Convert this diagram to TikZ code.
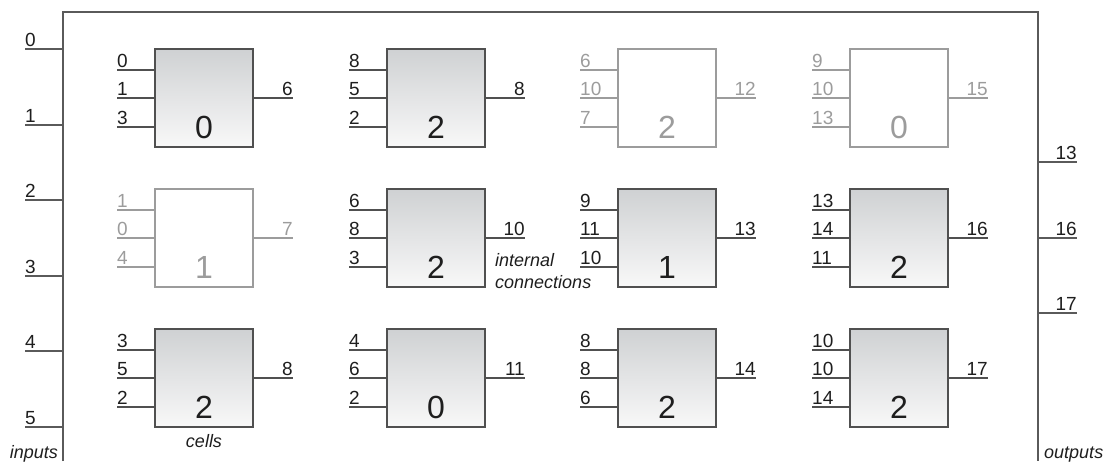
\documentclass[tikz,border=0pt]{standalone}
\usepackage{fontspec}
\setmainfont{Liberation Sans}
\definecolor{linec}{HTML}{505050}
\definecolor{framec}{HTML}{5A5A5A}
\definecolor{txt}{HTML}{1E1E1E}
\definecolor{ghost}{HTML}{9C9C9C}
\definecolor{gtop}{HTML}{CFD1D3}
\definecolor{gbot}{HTML}{F8F8F8}
\tikzset{
  wireact/.style={draw=linec, line width=1.2pt},
  wireghost/.style={draw=ghost, line width=1.2pt},
  frameline/.style={draw=framec, line width=1.3pt},
  lblact/.style={font=\fontsize{19}{19}\selectfont, text=txt, inner sep=0pt},
  lblghost/.style={font=\fontsize{19}{19}\selectfont, text=ghost, inner sep=0pt},
  numact/.style={font=\fontsize{32}{32}\selectfont, text=txt, inner sep=0pt},
  numghost/.style={font=\fontsize{32}{32}\selectfont, text=ghost, inner sep=0pt},
  boxact/.style={draw=linec, line width=1.2pt, minimum width=98pt, minimum height=98pt, inner sep=0pt, top color=gtop, bottom color=gbot},
  boxghost/.style={draw=ghost, line width=1.2pt, minimum width=98pt, minimum height=98pt, inner sep=0pt, fill=white},
  note/.style={font=\fontsize{18}{22}\selectfont\itshape, text=txt, inner sep=0pt, align=left},
}
% #1 name, #2 left x, #3 top y, #4 act/ghost, #5-#7 inputs, #8 output, #9 cell number
\newcommand\mkcell[9]{%
  \node[box#4] (#1) at ({#2+49},{#3+49}) {};
  \node[num#4, anchor=base] (#1n) at ({#2+49},{#3+89}) {#9};
  \coordinate (#1a) at ({#2-38},{#3+21});
  \coordinate (#1b) at ({#2-38},{#3+49});
  \coordinate (#1c) at ({#2-38},{#3+78});
  \coordinate (#1o) at ({#2+138},{#3+49});
  \draw[wire#4] (#1a) -- (#1a -| #1.west);
  \draw[wire#4] (#1b) -- (#1b -| #1.west);
  \draw[wire#4] (#1c) -- (#1c -| #1.west);
  \draw[wire#4] (#1.east) -- (#1o);
  \node[lbl#4, anchor=base west] (#1la) at ([yshift=3pt]#1a) {#5};
  \node[lbl#4, anchor=base west] (#1lb) at ([yshift=3pt]#1b) {#6};
  \node[lbl#4, anchor=base west] (#1lc) at ([yshift=3pt]#1c) {#7};
  \node[lbl#4, anchor=base east] (#1lo) at ([yshift=3pt]#1o) {#8};
}
\begin{document}
\begin{tikzpicture}[x=1pt,y=-1pt]
\useasboundingbox (0,0) rectangle (1106,461);
% frame
\coordinate (fbl) at (63,461);
\coordinate (ftl) at (63,12);
\coordinate (ftr) at (1038,12);
\coordinate (fbr) at (1038,461);
\draw[frameline] (fbl) -- (ftl) -- (ftr) -- (fbr);
% inputs
\foreach \i/\y in {0/49,1/125,2/200,3/276,4/351,5/427}{
  \coordinate (in\i) at (25,\y);
  \draw[frameline] (in\i) -- (in\i -| ftl);
  \node[lblact, anchor=base west] (inl\i) at ([yshift=3pt]in\i) {\i};
}
% outputs
\foreach \i/\y in {13/162,16/238,17/313}{
  \coordinate (out\i) at (1077,\y);
  \draw[frameline] (out\i -| ftr) -- (out\i);
  \node[lblact, anchor=base east] (outl\i) at ([yshift=3pt]out\i) {\i};
}
% cells
\mkcell{c11}{155}{49}{act}{0}{1}{3}{6}{0}
\mkcell{c12}{387}{49}{act}{8}{5}{2}{8}{2}
\mkcell{c13}{618}{49}{ghost}{6}{10}{7}{12}{2}
\mkcell{c14}{850}{49}{ghost}{9}{10}{13}{15}{0}
\mkcell{c21}{155}{189}{ghost}{1}{0}{4}{7}{1}
\mkcell{c22}{387}{189}{act}{6}{8}{3}{10}{2}
\mkcell{c23}{618}{189}{act}{9}{11}{10}{13}{1}
\mkcell{c24}{850}{189}{act}{13}{14}{11}{16}{2}
\mkcell{c31}{155}{329}{act}{3}{5}{2}{8}{2}
\mkcell{c32}{387}{329}{act}{4}{6}{2}{11}{0}
\mkcell{c33}{618}{329}{act}{8}{8}{6}{14}{2}
\mkcell{c34}{850}{329}{act}{10}{10}{14}{17}{2}
% notes
\node[note, anchor=base east] (inputs) at (58,458) {inputs};
\node[note, anchor=base west] (outputs) at (1044,458) {outputs};
\node[note, anchor=base] (cells) at (204,447) {cells};
\node[note, anchor=base west] (internal) at (495,266) {internal};
\node[note, anchor=base west] (connections) at (495,288) {connections};
\end{tikzpicture}
\end{document}
